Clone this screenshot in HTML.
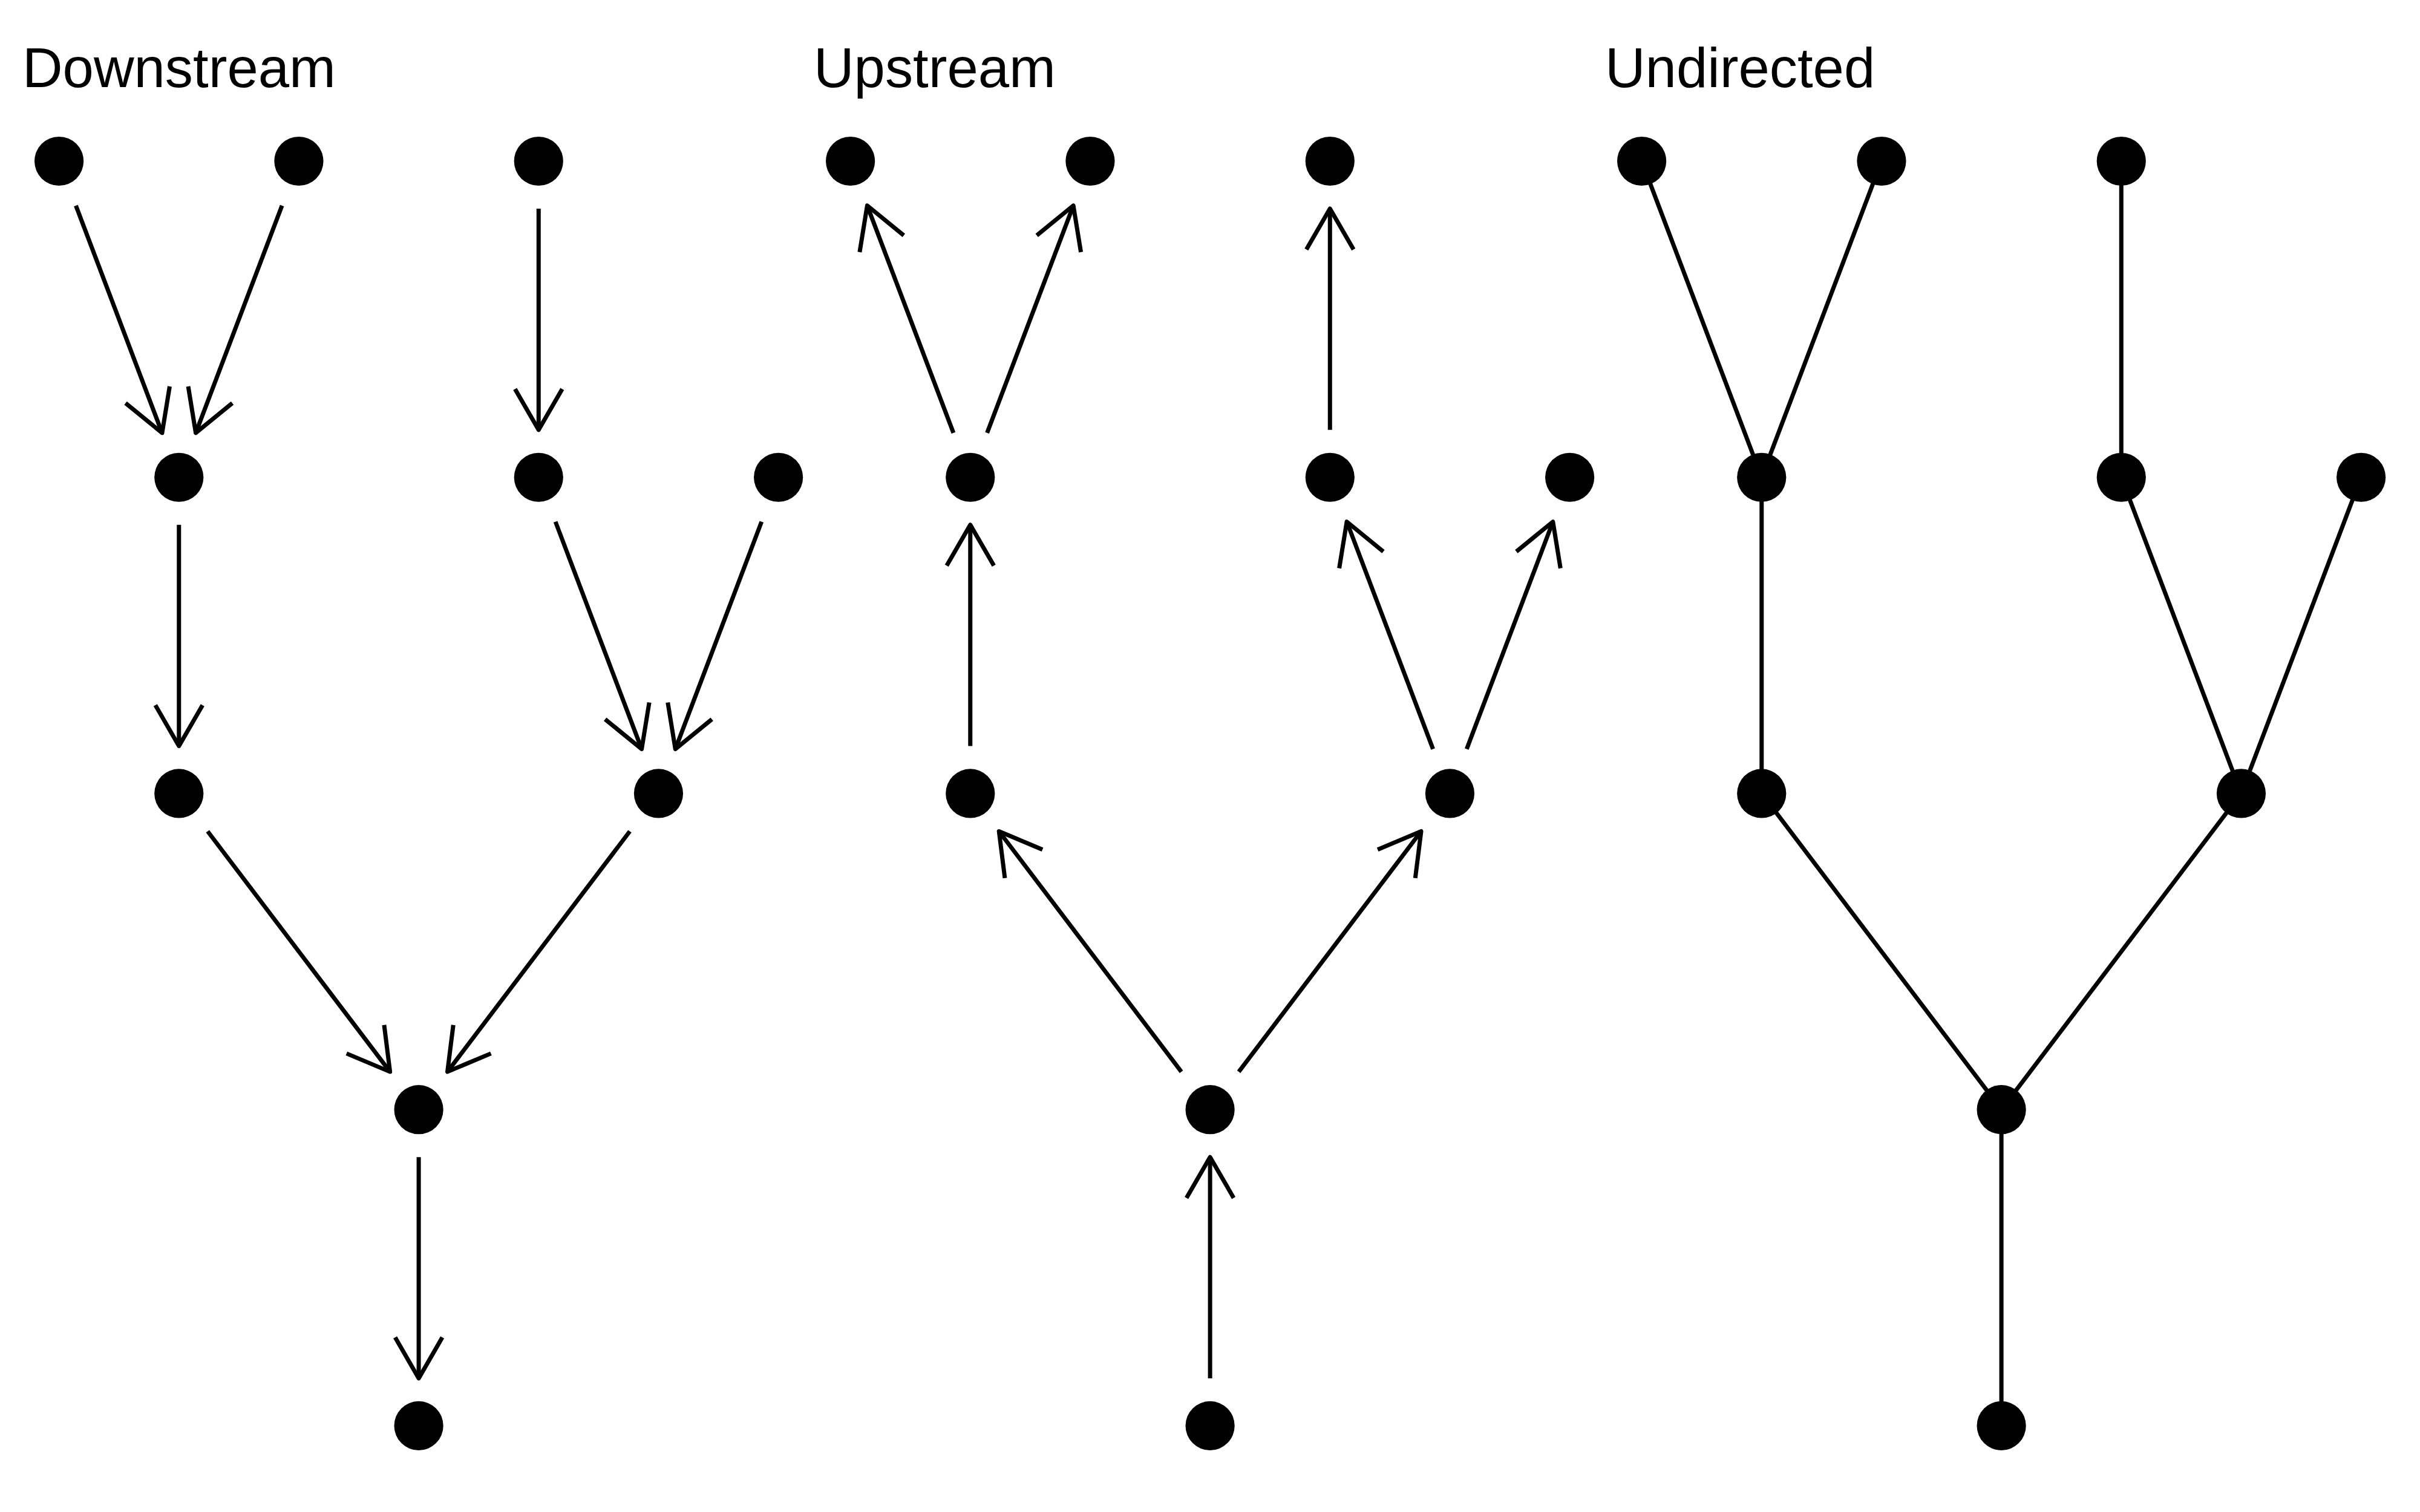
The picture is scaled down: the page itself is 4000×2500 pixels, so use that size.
<!DOCTYPE html>
<html><head><meta charset="utf-8"><style>
html,body{margin:0;padding:0;background:#fff;}
svg{display:block;}
</style></head><body>
<svg width="4000" height="2500" viewBox="0 0 4000 2500">
<rect width="4000" height="2500" fill="#fff"/>
<g font-family="Liberation Sans, sans-serif" font-size="92.3" fill="#000" stroke="none" transform="translate(0,144.0) scale(1,1.0) translate(0,-144.0)">
<text x="36.90" y="144.00">Downstream</text>
<text x="1344.90" y="144.00">Upstream</text>
<text x="2652.90" y="144.00">Undirected</text>
</g>
<g stroke="#000" stroke-width="7" fill="none" stroke-linecap="butt" stroke-linejoin="round">
<line x1="125.43" y1="339.90" x2="267.94" y2="715.82"/>
<polyline points="280.46,638.83 267.94,715.82 207.53,666.48"/>
<line x1="466.11" y1="339.90" x2="323.60" y2="715.82"/>
<polyline points="384.01,666.48 323.60,715.82 311.08,638.83"/>
<line x1="890.28" y1="345.00" x2="890.28" y2="710.73"/>
<polyline points="929.28,643.18 890.28,710.73 851.28,643.18"/>
<line x1="295.77" y1="867.73" x2="295.77" y2="1233.45"/>
<polyline points="334.77,1165.90 295.77,1233.45 256.77,1165.90"/>
<line x1="918.11" y1="862.63" x2="1060.62" y2="1238.55"/>
<polyline points="1073.14,1161.56 1060.62,1238.55 1000.21,1189.21"/>
<line x1="1258.79" y1="862.63" x2="1116.28" y2="1238.55"/>
<polyline points="1176.69,1189.21 1116.28,1238.55 1103.76,1161.56"/>
<line x1="343.20" y1="1374.50" x2="644.68" y2="1772.12"/>
<polyline points="634.95,1694.73 644.68,1772.12 572.79,1741.86"/>
<line x1="1041.02" y1="1374.50" x2="739.54" y2="1772.12"/>
<polyline points="811.43,1741.86 739.54,1772.12 749.27,1694.73"/>
<line x1="692.11" y1="1913.18" x2="692.11" y2="2278.90"/>
<polyline points="731.11,2211.35 692.11,2278.90 653.11,2211.35"/>
<line x1="1575.94" y1="715.82" x2="1433.43" y2="339.90"/>
<polyline points="1420.91,416.89 1433.43,339.90 1493.84,389.24"/>
<line x1="1631.60" y1="715.82" x2="1774.11" y2="339.90"/>
<polyline points="1713.70,389.24 1774.11,339.90 1786.63,416.89"/>
<line x1="2198.28" y1="710.73" x2="2198.28" y2="345.00"/>
<polyline points="2159.28,412.55 2198.28,345.00 2237.28,412.55"/>
<line x1="1603.77" y1="1233.45" x2="1603.77" y2="867.73"/>
<polyline points="1564.77,935.27 1603.77,867.73 1642.77,935.27"/>
<line x1="2368.62" y1="1238.55" x2="2226.11" y2="862.63"/>
<polyline points="2213.59,939.62 2226.11,862.63 2286.52,911.97"/>
<line x1="2424.28" y1="1238.55" x2="2566.79" y2="862.63"/>
<polyline points="2506.38,911.97 2566.79,862.63 2579.31,939.62"/>
<line x1="1952.68" y1="1772.12" x2="1651.20" y2="1374.50"/>
<polyline points="1660.93,1451.89 1651.20,1374.50 1723.09,1404.77"/>
<line x1="2047.54" y1="1772.12" x2="2349.02" y2="1374.50"/>
<polyline points="2277.13,1404.77 2349.02,1374.50 2339.29,1451.89"/>
<line x1="2000.11" y1="2278.90" x2="2000.11" y2="1913.18"/>
<polyline points="1961.11,1980.72 2000.11,1913.18 2039.11,1980.72"/>
<line x1="2713.60" y1="266.50" x2="2911.77" y2="789.23"/>
<line x1="3109.94" y1="266.50" x2="2911.77" y2="789.23"/>
<line x1="3506.28" y1="266.50" x2="3506.28" y2="789.23"/>
<line x1="2911.77" y1="789.23" x2="2911.77" y2="1311.95"/>
<line x1="3506.28" y1="789.23" x2="3704.45" y2="1311.95"/>
<line x1="3902.62" y1="789.23" x2="3704.45" y2="1311.95"/>
<line x1="2911.77" y1="1311.95" x2="3308.11" y2="1834.68"/>
<line x1="3704.45" y1="1311.95" x2="3308.11" y2="1834.68"/>
<line x1="3308.11" y1="1834.68" x2="3308.11" y2="2357.40"/>
</g>
<g fill="#000" stroke="none">
<circle cx="97.60" cy="266.50" r="40.6"/>
<circle cx="493.94" cy="266.50" r="40.6"/>
<circle cx="890.28" cy="266.50" r="40.6"/>
<circle cx="295.77" cy="789.23" r="40.6"/>
<circle cx="890.28" cy="789.23" r="40.6"/>
<circle cx="1286.62" cy="789.23" r="40.6"/>
<circle cx="295.77" cy="1311.95" r="40.6"/>
<circle cx="1088.45" cy="1311.95" r="40.6"/>
<circle cx="692.11" cy="1834.68" r="40.6"/>
<circle cx="692.11" cy="2357.40" r="40.6"/>
<circle cx="1405.60" cy="266.50" r="40.6"/>
<circle cx="1801.94" cy="266.50" r="40.6"/>
<circle cx="2198.28" cy="266.50" r="40.6"/>
<circle cx="1603.77" cy="789.23" r="40.6"/>
<circle cx="2198.28" cy="789.23" r="40.6"/>
<circle cx="2594.62" cy="789.23" r="40.6"/>
<circle cx="1603.77" cy="1311.95" r="40.6"/>
<circle cx="2396.45" cy="1311.95" r="40.6"/>
<circle cx="2000.11" cy="1834.68" r="40.6"/>
<circle cx="2000.11" cy="2357.40" r="40.6"/>
<circle cx="2713.60" cy="266.50" r="40.6"/>
<circle cx="3109.94" cy="266.50" r="40.6"/>
<circle cx="3506.28" cy="266.50" r="40.6"/>
<circle cx="2911.77" cy="789.23" r="40.6"/>
<circle cx="3506.28" cy="789.23" r="40.6"/>
<circle cx="3902.62" cy="789.23" r="40.6"/>
<circle cx="2911.77" cy="1311.95" r="40.6"/>
<circle cx="3704.45" cy="1311.95" r="40.6"/>
<circle cx="3308.11" cy="1834.68" r="40.6"/>
<circle cx="3308.11" cy="2357.40" r="40.6"/>
</g>
</svg>
</body></html>
